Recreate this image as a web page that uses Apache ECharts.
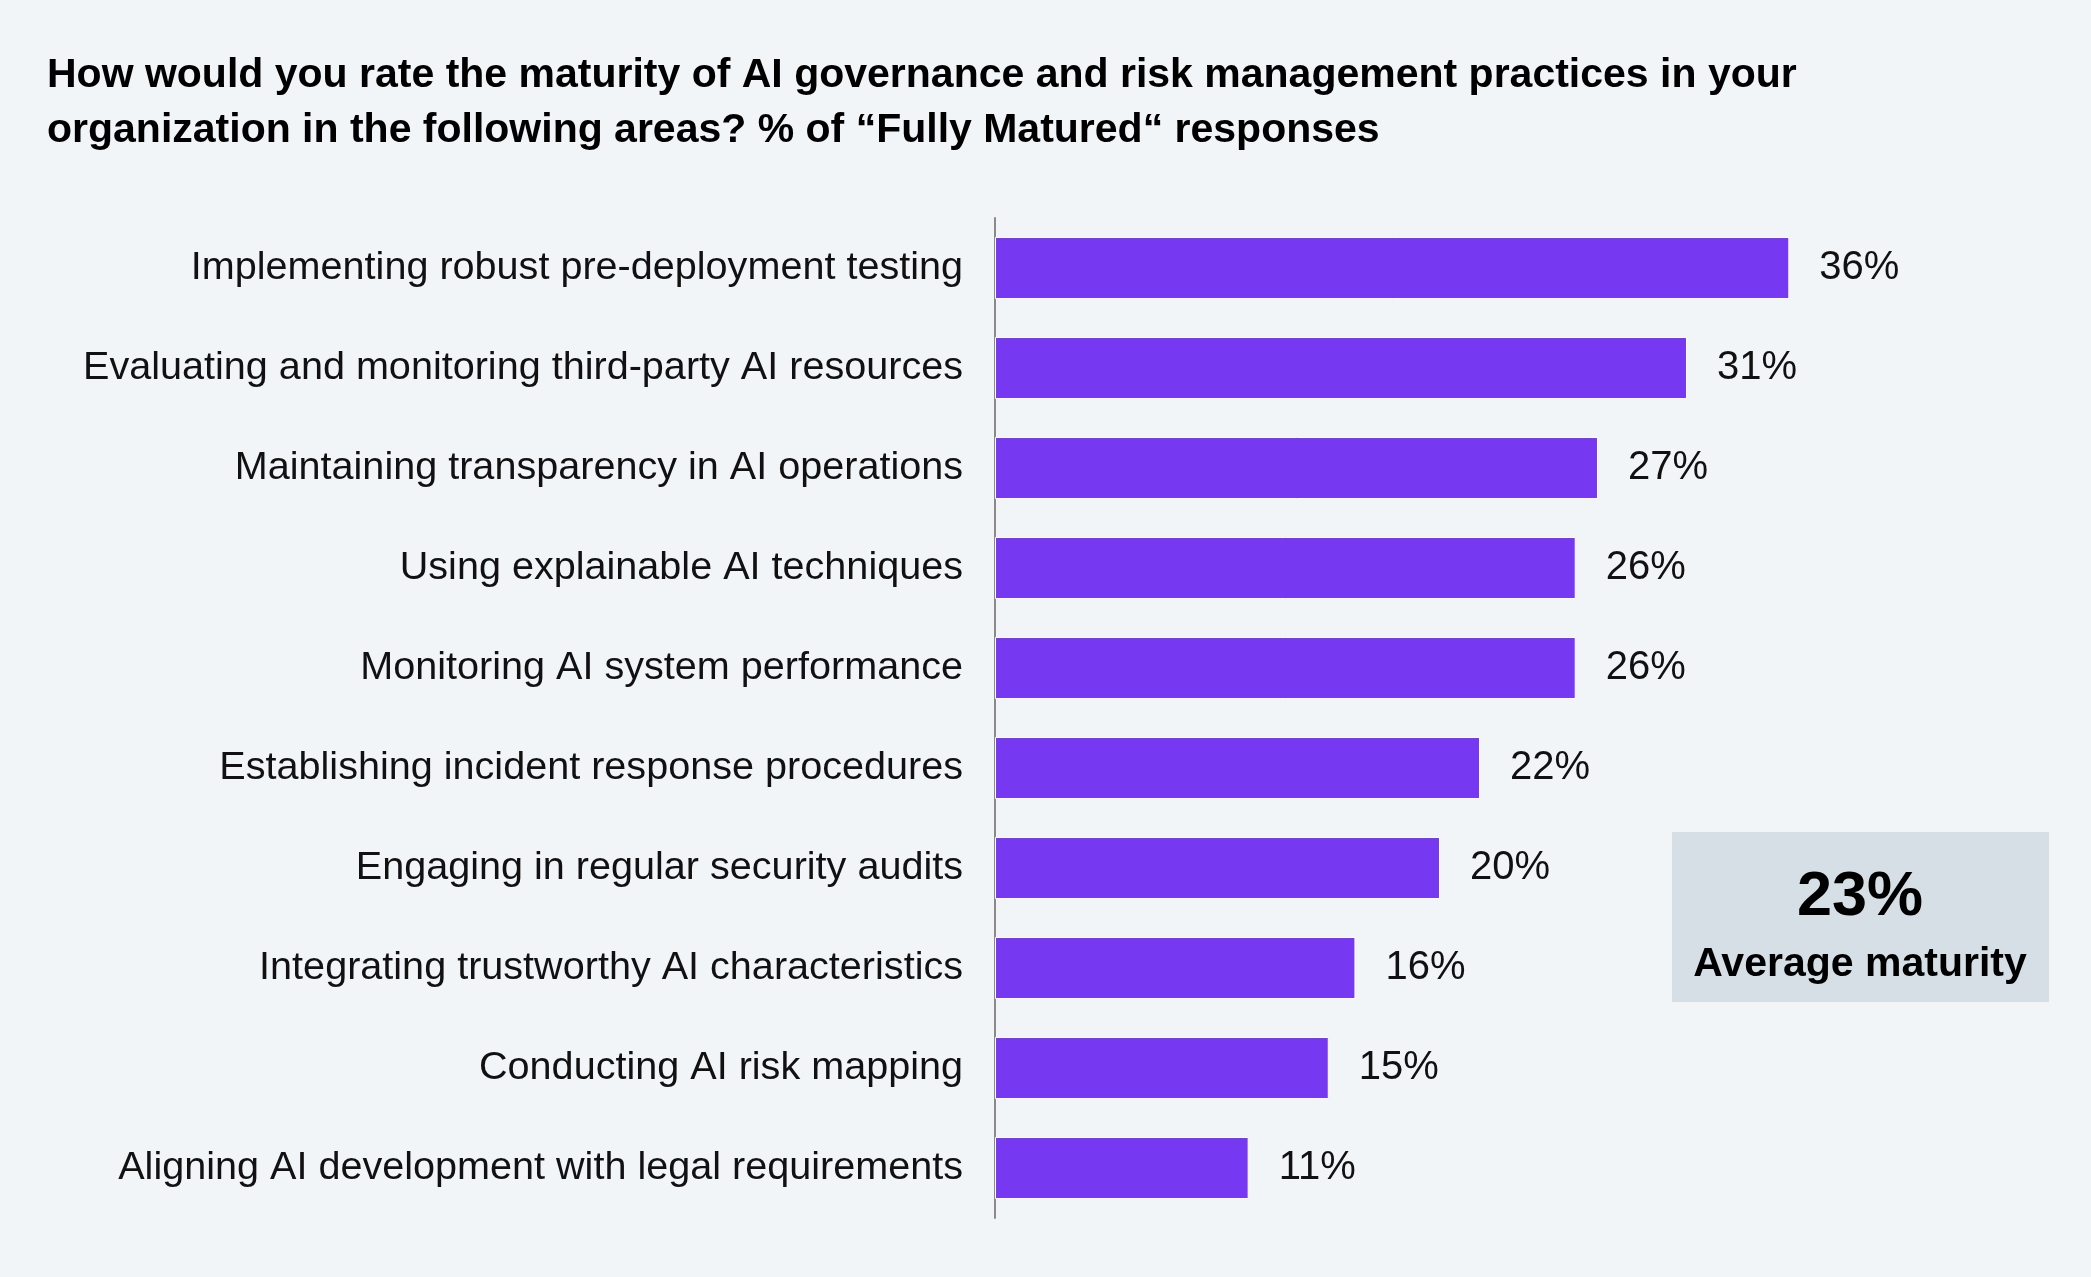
<!DOCTYPE html>
<html>
<head>
<meta charset="utf-8">
<script src="https://cdn.jsdelivr.net/npm/echarts@6/dist/echarts.min.js"></script>
<style>
  html, body { margin: 0; padding: 0; background: #f2f5f8; }
  #chart { width: 2091px; height: 1277px; }
</style>
</head>
<body>
<div id="chart"></div>
<script>
// categories, top to bottom
const areas = [
  'Implementing robust pre-deployment testing',
  'Evaluating and monitoring third-party AI resources',
  'Maintaining transparency in AI operations',
  'Using explainable AI techniques',
  'Monitoring AI system performance',
  'Establishing incident response procedures',
  'Engaging in regular security audits',
  'Integrating trustworthy AI characteristics',
  'Conducting AI risk mapping',
  'Aligning AI development with legal requirements'
];
// % of "Fully Matured" responses
const fullyMatured = [35.7, 31.1, 27.1, 26.1, 26.1, 21.8, 20.0, 16.2, 15.0, 11.4];

const titleLines = [
  'How would you rate the maturity of AI governance and risk management practices in your',
  'organization in the following areas? % of \u201CFully Matured\u201C responses'
];

const FONT = '"Liberation Sans", Arial, Helvetica, sans-serif';
const avg = fullyMatured.reduce((a, b) => a + b, 0) / fullyMatured.length;

const chart = echarts.init(document.getElementById('chart'));
chart.setOption({
  backgroundColor: '#f2f5f8',
  animation: false,
  title: {
    text: titleLines.join('\n'),
    left: 42,
    top: 43,
    textStyle: {
      fontFamily: FONT,
      fontSize: 41,
      fontWeight: 'bold',
      lineHeight: 55,
      color: '#000'
    }
  },
  grid: {
    left: 995,
    top: 218,
    width: 890,
    height: 1000
  },
  xAxis: {
    type: 'value',
    min: 0,
    max: 40,
    show: false
  },
  yAxis: {
    type: 'category',
    inverse: true,
    data: areas,
    axisTick: { show: false },
    axisLine: { lineStyle: { color: '#8a8a8a', width: 2 } },
    axisLabel: {
      margin: 32,
      fontFamily: FONT,
      fontSize: 39.6,
      color: '#111',
      padding: [8, 0, 0, 0]
    }
  },
  series: [{
    type: 'bar',
    data: fullyMatured,
    barWidth: 62,
    itemStyle: {
      color: '#7638f0',
      borderColor: '#ffffff',
      borderWidth: 1
    },
    label: {
      show: true,
      position: 'right',
      distance: 30,
      fontFamily: FONT,
      fontSize: 40,
      color: '#111',
      padding: [8, 0, 0, 0],
      formatter: p => Math.round(p.value) + '%'
    }
  }],
  graphic: [
    {
      type: 'rect',
      left: 1672,
      top: 832,
      shape: { width: 377, height: 170 },
      style: { fill: '#d5dfe5' }
    },
    {
      type: 'text',
      x: 1860,
      y: 898,
      style: {
        text: Math.round(avg) + '%',
        fontFamily: FONT,
        fontSize: 63,
        fontWeight: 'bold',
        fill: '#000',
        align: 'center',
        verticalAlign: 'middle'
      }
    },
    {
      type: 'text',
      x: 1860,
      y: 965,
      style: {
        text: 'Average maturity',
        fontFamily: FONT,
        fontSize: 41,
        fontWeight: 'bold',
        fill: '#000',
        align: 'center',
        verticalAlign: 'middle'
      }
    }
  ]
});
</script>
</body>
</html>
